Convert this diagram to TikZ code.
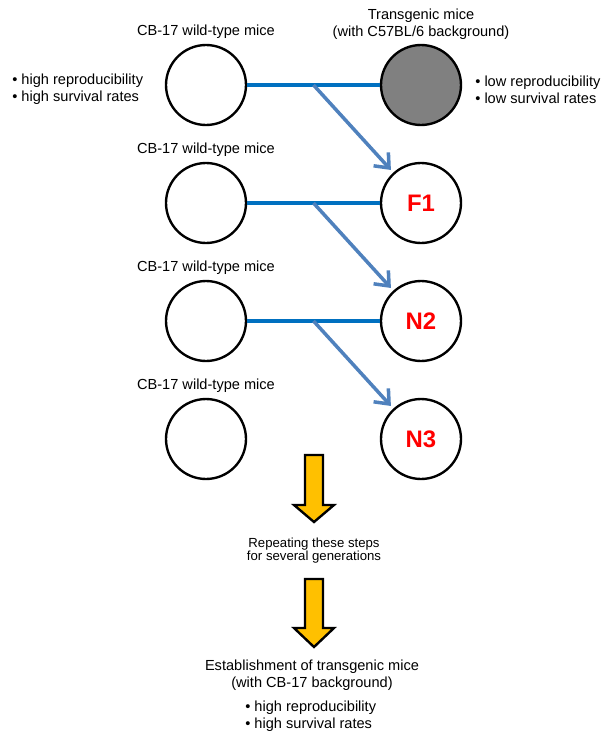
\documentclass[tikz,border=0pt]{standalone}
\usepackage{fontspec}
\setmainfont{Liberation Sans}
\usetikzlibrary{arrows.meta,positioning,calc}
\definecolor{crossblue}{RGB}{0,112,192}
\definecolor{breedblue}{RGB}{79,129,189}
\definecolor{tggrey}{RGB}{128,128,128}
\definecolor{amber}{RGB}{255,192,0}
\definecolor{litterred}{RGB}{255,0,0}
\newcommand{\txt}{\fontsize{8.3}{9.6}\selectfont}
\tikzset{
  mouse/.style={circle,draw=black,line width=1.35pt,fill=white,minimum size=1.6cm,inner sep=0pt},
  tgmouse/.style={mouse,fill=tggrey},
  litter/.style={mouse,text=litterred,font=\fontsize{13.6}{16}\selectfont\bfseries},
  strain/.style={font=\txt,align=center,inner sep=0pt},
  traits/.style={font=\txt,align=left,inner sep=0pt,anchor=west},
  cross/.style={draw=crossblue,line width=2.2pt},
  breed/.style={-{Straight Barb[length=2.4mm,width=4mm]},draw=breedblue,line width=2pt,shorten >=2pt},
  bigarrow/.style={draw=black,line width=1.35pt,fill=amber,line join=miter}
}
\begin{document}
\begin{tikzpicture}[x=0.02cm,y=-0.02cm]
  \useasboundingbox (0,0) rectangle (600,734);

  % parents and backcross generations
  \node[mouse] (wt1) at (206,85) {};
  \node[tgmouse] (tg) at (421,85) {};
  \node[mouse] (wt2) at (206,203) {};
  \node[litter] (f1) at (421,203) {F1};
  \node[mouse] (wt3) at (206,321) {};
  \node[litter] (n2) at (421,321) {N2};
  \node[mouse] (wt4) at (206,439) {};
  \node[litter] (n3) at (421,439) {N3};

  \node[strain] (lab1) at ($(wt1)+(0,-53)$) {CB-17 wild-type mice};
  \node[strain] (lab2) at ($(wt2)+(0,-53)$) {CB-17 wild-type mice};
  \node[strain] (lab3) at ($(wt3)+(0,-53)$) {CB-17 wild-type mice};
  \node[strain] (lab4) at ($(wt4)+(0,-53)$) {CB-17 wild-type mice};
  \node[strain] (tglab) at ($(tg)+(0,-61)$) {Transgenic mice\\(with C57BL/6 background)};

  \node[traits] (wttraits) at (12,89.5) {• high reproducibility\\• high survival rates};
  \node[traits] (tgtraits) at (475,89.5) {• low reproducibility\\• low survival rates};

  % crosses
  \coordinate (b1) at ($(wt1.east)!0.5!(tg.west)$);
  \coordinate (b2) at ($(wt2.east)!0.5!(f1.west)$);
  \coordinate (b3) at ($(wt3.east)!0.5!(n2.west)$);
  \draw[cross] (wt1) -- (tg);
  \draw[cross] (wt2) -- (f1);
  \draw[cross] (wt3) -- (n2);
  \draw[breed] (b1) -- (f1);
  \draw[breed] (b2) -- (n2);
  \draw[breed] (b3) -- (n3);

  % repeat and result
  \coordinate (y1) at (314,455);
  \draw[bigarrow] (y1) ++(-9,0) -- ++(18,0) -- ++(0,50) -- ++(11,0) -- ++(-20,17)
    -- ++(-20,-17) -- ++(11,0) -- cycle;
  \node[strain,font=\fontsize{7.5}{7.2}\selectfont] (repeat) at (314,550.5)
    {Repeating these steps\\for several generations};
  \coordinate (y2) at (314,579);
  \draw[bigarrow] (y2) ++(-9,0) -- ++(18,0) -- ++(0,49) -- ++(11,0) -- ++(-20,19)
    -- ++(-20,-19) -- ++(11,0) -- cycle;
  \node[strain] (result) at (312,675.5) {Establishment of transgenic mice\\(with CB-17 background)};
  \node[traits] (restraits) at (245,716) {• high reproducibility\\• high survival rates};
\end{tikzpicture}
\end{document}
